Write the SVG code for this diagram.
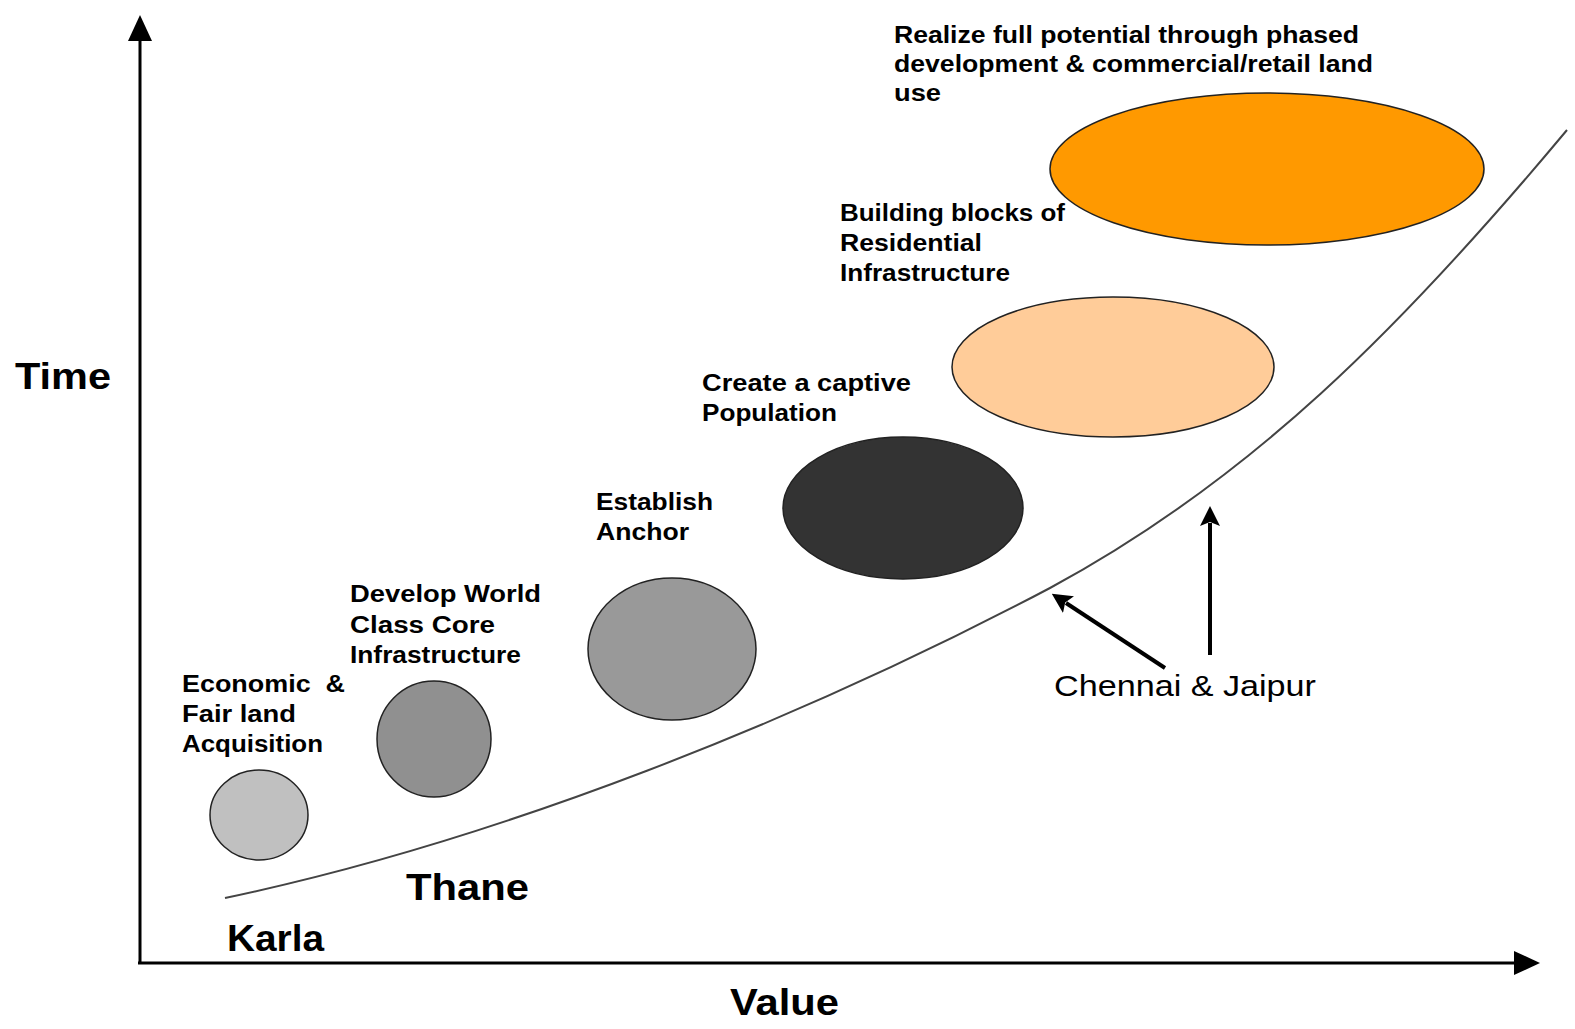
<svg xmlns="http://www.w3.org/2000/svg" width="1575" height="1029" viewBox="0 0 1575 1029">
<style>
.lbl{font-family:"Liberation Sans",Arial,sans-serif;font-weight:bold;font-size:23px;fill:#000}
.big{font-family:"Liberation Sans",Arial,sans-serif;font-weight:bold;font-size:36px;fill:#000}
.city{font-family:"Liberation Sans",Arial,sans-serif;font-size:30px;fill:#000}
.node{stroke:#222;stroke-width:1.5}
</style>
<defs>
<marker id="axisHead" markerUnits="userSpaceOnUse" markerWidth="26" markerHeight="24" viewBox="0 0 26 24" refX="2" refY="12" orient="auto">
<path d="M0,0 L26,12 L0,24 z" fill="#000"/>
</marker>
<marker id="ptr" markerUnits="userSpaceOnUse" markerWidth="20" markerHeight="20" viewBox="0 0 20 20" refX="3" refY="10" orient="auto">
<path d="M0,0 L20,10 L0,20 L4,10 z" fill="#000"/>
</marker>
</defs>
<rect width="1575" height="1029" fill="#fff"/>
<g id="connectors">
<line x1="140" y1="964" x2="140" y2="39" stroke="#000" stroke-width="3" marker-end="url(#axisHead)"/>
<line x1="138" y1="963" x2="1516" y2="963" stroke="#000" stroke-width="3" marker-end="url(#axisHead)"/>
<path d="M225,898 C500,840 800,720 1050,588 C1250,480 1400,330 1567,130" fill="none" stroke="#444" stroke-width="2"/>
<line x1="1165" y1="668" x2="1066" y2="603" stroke="#000" stroke-width="4" marker-end="url(#ptr)"/>
<line x1="1210" y1="655" x2="1210" y2="523" stroke="#000" stroke-width="4" marker-end="url(#ptr)"/>
</g>
<g id="axis-labels">
<text class="big" x="15" y="389" textLength="96" lengthAdjust="spacingAndGlyphs">Time</text>
<text class="big" x="730" y="1015" textLength="109" lengthAdjust="spacingAndGlyphs">Value</text>
</g>
<g id="karla"><text class="big" x="227" y="951" textLength="97" lengthAdjust="spacingAndGlyphs">Karla</text></g>
<g id="thane"><text class="big" x="406" y="900" textLength="123" lengthAdjust="spacingAndGlyphs">Thane</text></g>
<g id="chennai"><text class="city" x="1054" y="696" textLength="262" lengthAdjust="spacingAndGlyphs">Chennai &amp; Jaipur</text></g>
<g id="n1">
<ellipse class="node" cx="259" cy="815" rx="49" ry="45" fill="#c0c0c0"/>
<text class="lbl" x="182" y="692"><tspan textLength="163" lengthAdjust="spacingAndGlyphs">Economic&#160; &amp;</tspan><tspan x="182" y="722" textLength="114" lengthAdjust="spacingAndGlyphs">Fair land</tspan><tspan x="182" y="752" textLength="141" lengthAdjust="spacingAndGlyphs">Acquisition</tspan></text>
</g>
<g id="n2">
<ellipse class="node" cx="434" cy="739" rx="57" ry="58" fill="#909090"/>
<text class="lbl" x="350" y="602"><tspan textLength="191" lengthAdjust="spacingAndGlyphs">Develop World</tspan><tspan x="350" y="633" textLength="145" lengthAdjust="spacingAndGlyphs">Class Core</tspan><tspan x="350" y="663" textLength="171" lengthAdjust="spacingAndGlyphs">Infrastructure</tspan></text>
</g>
<g id="n3">
<ellipse class="node" cx="672" cy="649" rx="84" ry="71" fill="#999999"/>
<text class="lbl" x="596" y="510"><tspan textLength="117" lengthAdjust="spacingAndGlyphs">Establish</tspan><tspan x="596" y="540" textLength="93" lengthAdjust="spacingAndGlyphs">Anchor</tspan></text>
</g>
<g id="n4">
<ellipse class="node" cx="903" cy="508" rx="120" ry="71" fill="#333333"/>
<text class="lbl" x="702" y="391"><tspan textLength="209" lengthAdjust="spacingAndGlyphs">Create a captive</tspan><tspan x="702" y="421" textLength="135" lengthAdjust="spacingAndGlyphs">Population</tspan></text>
</g>
<g id="n5">
<ellipse class="node" cx="1113" cy="367" rx="161" ry="70" fill="#ffcc99"/>
<text class="lbl" x="840" y="221"><tspan textLength="225" lengthAdjust="spacingAndGlyphs">Building blocks of</tspan><tspan x="840" y="251" textLength="142" lengthAdjust="spacingAndGlyphs">Residential</tspan><tspan x="840" y="281" textLength="170" lengthAdjust="spacingAndGlyphs">Infrastructure</tspan></text>
</g>
<g id="n6">
<ellipse class="node" cx="1267" cy="169" rx="217" ry="76" fill="#ff9900"/>
<text class="lbl" x="894" y="43"><tspan textLength="465" lengthAdjust="spacingAndGlyphs">Realize full potential through phased</tspan><tspan x="894" y="72" textLength="479" lengthAdjust="spacingAndGlyphs">development &amp; commercial/retail land</tspan><tspan x="894" y="101" textLength="47" lengthAdjust="spacingAndGlyphs">use</tspan></text>
</g>
</svg>
